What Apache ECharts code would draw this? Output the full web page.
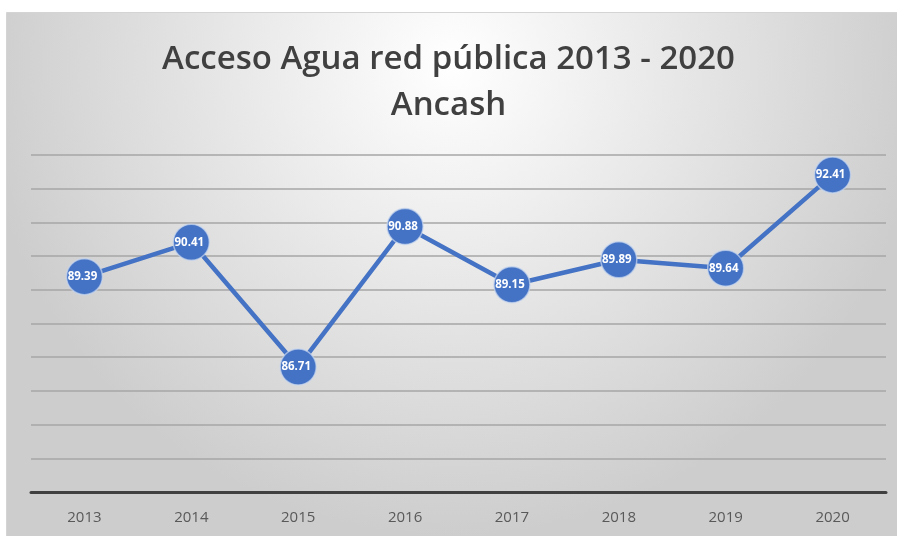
<!DOCTYPE html>
<html>
<head>
<meta charset="utf-8">
<style>
  html, body { margin: 0; padding: 0; background: #ffffff; }
  #chart { width: 897px; height: 536px; }
</style>
<script src="https://cdn.jsdelivr.net/npm/echarts@6/dist/echarts.min.js"></script>
</head>
<body>
<div id="chart"></div>
<script>
// Water access via public network, Ancash region
const years = ['2013', '2014', '2015', '2016', '2017', '2018', '2019', '2020'];
const accessPct = [89.39, 90.41, 86.71, 90.88, 89.15, 89.89, 89.64, 92.41];
const titleLines = ['Acceso Agua red pública 2013 - 2020', 'Ancash'];

const chart = echarts.init(document.getElementById('chart'), null, { renderer: 'canvas' });

chart.setOption({
  animation: false,
  backgroundColor: '#ffffff',
  graphic: [
    {
      type: 'rect',
      left: 6, top: 12,
      shape: { width: 891, height: 524 },
      style: {
        fill: {
          type: 'radial', x: 0.5, y: 0.1, r: 0.9,
          colorStops: [
            { offset: 0, color: '#ffffff' },
            { offset: 0.3, color: '#f0f0f0' },
            { offset: 0.7, color: '#dcdcdc' },
            { offset: 1, color: '#cdcdcd' }
          ]
        },
        stroke: '#d4d4d4', lineWidth: 1
      },
      z: -10
    }
  ],
  title: {
    text: titleLines.join('\n'),
    left: 'center',
    top: 32,
    textStyle: {
      fontFamily: 'Open Sans',
      fontWeight: 600,
      fontSize: 33,
      lineHeight: 46,
      color: '#404040'
    }
  },
  grid: { left: 31, right: 11, top: 155, bottom: 44 },
  xAxis: {
    type: 'category',
    data: years,
    boundaryGap: true,
    axisLine: { lineStyle: { color: '#404040', width: 3 } },
    axisTick: { show: false },
    axisLabel: {
      color: '#595959', fontSize: 15, margin: 18,
      fontFamily: 'Open Sans'
    },
    splitLine: { show: false }
  },
  yAxis: {
    type: 'value',
    min: 83, max: 93, interval: 1,
    axisLine: { show: false },
    axisTick: { show: false },
    axisLabel: { show: false },
    splitLine: { lineStyle: { color: '#a6a6a6', width: 1.5 } }
  },
  series: [{
    type: 'line',
    data: accessPct,
    symbol: 'circle',
    symbolSize: 36,
    lineStyle: { color: '#4472c4', width: 4.5 },
    itemStyle: { color: '#4472c4', borderColor: 'rgba(200,215,240,0.7)', borderWidth: 1.5 },
    label: {
      show: true,
      position: 'inside',
      offset: [-2, 0],
      color: '#ffffff',
      fontSize: 11.5,
      fontWeight: 'bold',
      fontFamily: 'Open Sans',
      formatter: p => p.value.toFixed(2)
    }
  }]
});
</script>
</body>
</html>
